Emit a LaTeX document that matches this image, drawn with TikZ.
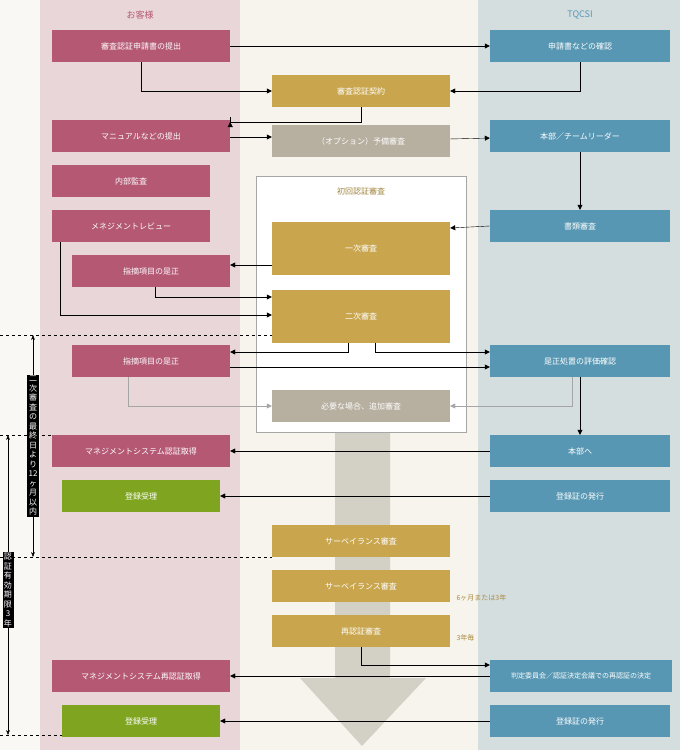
\documentclass[tikz,border=0pt]{standalone}
\usepackage{fontspec}
\setmainfont{Noto Sans CJK JP}
\usetikzlibrary{positioning,calc,arrows.meta}
\definecolor{pinkbox}{HTML}{B45874}
\definecolor{goldbox}{HTML}{C9A64E}
\definecolor{graybox}{HTML}{B7AFA0}
\definecolor{bluebox}{HTML}{5797B3}
\definecolor{greenbox}{HTML}{7FA520}
\definecolor{pinkband}{HTML}{E8D6D8}
\definecolor{blueband}{HTML}{D4DEDF}
\definecolor{midband}{HTML}{F6F4EC}
\definecolor{bigarrow}{HTML}{D3D0C6}
\tikzset{
  box/.style={draw=none,text=white,minimum height=32pt,inner sep=0pt,font=\fontsize{8}{10}\selectfont},
  cust/.style={box,fill=pinkbox,minimum width=178pt},
  cust2/.style={box,fill=pinkbox,minimum width=158pt},
  okbox/.style={box,fill=greenbox,minimum width=158pt},
  gold/.style={box,fill=goldbox,minimum width=178pt},
  opt/.style={box,fill=graybox,minimum width=178pt},
  tq/.style={box,fill=bluebox,minimum width=180pt},
  link/.style={-{Triangle[length=5pt,width=5pt]},thin},
  glink/.style={link,gray!70},
  vbar/.style={fill=black,text=white,inner sep=1.5pt,font=\fontsize{8}{9.5}\selectfont,align=center},
}
\begin{document}
\begin{tikzpicture}[x=1pt,y=-1pt]
\useasboundingbox (0,0) rectangle (680,750);
\fill[midband!60!white] (0,0) rectangle (680,750);
\fill[pinkband] (40,0) rectangle (240,750);
\fill[midband] (240,0) rectangle (478,750);
\fill[blueband] (478,0) rectangle (680,750);
\node[text=pinkbox,font=\fontsize{9}{11}\selectfont] (hcust) at (140,15) {お客様};
\node[text=bluebox,font=\fontsize{9}{11}\selectfont] (htq) at (580,15) {TQCSI};
% big arrow
\fill[bigarrow] (335,432) -- (390,432) -- (390,678) -- (426,678) -- (362,746) -- (300,678) -- (335,678) -- cycle;
% frame
\draw[gray!70,fill=white] (256,176) rectangle (466,432);
\node[text=goldbox!80!black,font=\fontsize{8}{10}\selectfont] (hfirst) at (361,191) {初回認証審査};
% customer side
\node[cust] (c1) at (141,46) {審査認証申請書の提出};
\node[cust] (c2) at (141,136) {マニュアルなどの提出};
\node[cust2] (c3) at (131,181) {内部監査};
\node[cust2] (c4) at (131,226) {メネジメントレビュー};
\node[cust2] (c5) at (151,271) {指摘項目の是正};
\node[cust2] (c6) at (151,361) {指摘項目の是正};
\node[cust] (c7) at (141,451) {マネジメントシステム認証取得};
\node[okbox] (c8) at (141,496) {登録受理};
\node[cust] (c9) at (141,676) {マネジメントシステム再認証取得};
\node[okbox] (c10) at (141,721) {登録受理};
% middle
\node[gold] (m1) at (361,91) {審査認証契約};
\node[opt] (m2) at (361,141) {（オプション）予備審査};
\node[gold,minimum height=53pt] (m3) at (361,248) {一次審査};
\node[gold,minimum height=53pt] (m4) at (361,316) {二次審査};
\node[opt] (m5) at (361,406) {必要な場合、追加審査};
\node[gold] (m6) at (361,541) {サーベイランス審査};
\node[gold] (m7) at (361,586) {サーベイランス審査};
\node[gold] (m8) at (361,631) {再認証審査};
\node[text=goldbox!85!black,anchor=west,font=\fontsize{7}{9}\selectfont] (n1) at (453,598) {6ヶ月または3年};
\node[text=goldbox!85!black,anchor=west,font=\fontsize{7}{9}\selectfont] (n2) at (453,638) {3年毎};
% TQCSI side
\node[tq] (t1) at (580,46) {申請書などの確認};
\node[tq] (t2) at (580,136) {本部／チームリーダー};
\node[tq] (t3) at (580,226) {書類審査};
\node[tq] (t4) at (580,361) {是正処置の評価確認};
\node[tq] (t5) at (580,451) {本部へ};
\node[tq] (t6) at (580,496) {登録証の発行};
\node[tq,minimum width=182pt,font=\fontsize{7}{9}\selectfont] (t7) at (581,676) {判定委員会／認証決定会議での再認証の決定};
\node[tq] (t8) at (580,721) {登録証の発行};
% connectors
\draw[link] (c1) -- (t1);
\draw[link] (c1.south) |- (m1.west);
\draw[link] (t1.south) |- (m1.east);
\draw[link] (m1.south) |- ($(c2.east)+(0,-14)$) -- ++(0,0);
\draw[link] ($(c2.east)+(0,1)$) -- ($(m2.west)+(0,-4)$);
\draw[link] (m2) -- (t2);
\draw[link] (t2) -- (t3);
\draw[link] (t3.west) -- ($(m3.east)+(0,-20)$);
\draw[link] ($(m3.west)+(0,17)$) -- (c5.east |- {0,265});
\draw[link] ($(c5.south)+(4,0)$) |- ($(m4.west)+(0,-19)$);
\draw[link] ($(c4.south west)+(8,0)$) |- ($(m4.west)+(0,-1)$);
\draw[link] ($(m4.south)+(-13,0)$) |- ($(c6.east)+(0,-9)$);
\draw[link] ($(m4.south)+(14,0)$) |- ($(t4.west)+(0,-9)$);
\draw[link] ($(c6.east)+(0,6)$) -- ($(t4.west)+(0,6)$);
\draw[glink] ($(c6.south west)+(56,0)$) |- (m5.west);
\draw[glink] ($(t4.south)+(-8,0)$) |- (m5.east);
\draw[link] (t4) -- (t5);
\draw[link] (t5) -- (c7);
\draw[link] (t6) -- (c8);
\draw[link] (m8.south) |- ($(t7.west)+(0,-11)$);
\draw[link] (t7.west) -- (c9.east);
\draw[link] (t8) -- (c10);
% periods
\coordinate (p1) at (0,335);
\coordinate (p2) at (0,435);
\coordinate (p3) at (0,557);
\coordinate (p4) at (0,735);
\draw[dashed,thin] (p1) -- (272,335);
\draw[dashed,thin] (p2) -- (52,435);
\draw[dashed,thin] (p3) -- (272,557);
\draw[dashed,thin] (p4) -- (62,735);
\draw[{Stealth[length=5pt]}-{Stealth[length=5pt]},thin] (33,335) -- (33,557);
\draw[{Stealth[length=5pt]}-{Stealth[length=5pt]},thin] (8,435) -- (8,735);
\node[vbar] (v1) at (33,446) {二\\次\\審\\査\\の\\最\\終\\日\\よ\\り\\12\\ヶ\\月\\以\\内};
\node[vbar] (v2) at (8,590) {認\\証\\有\\効\\期\\限\\3\\年};
\end{tikzpicture}
\end{document}
